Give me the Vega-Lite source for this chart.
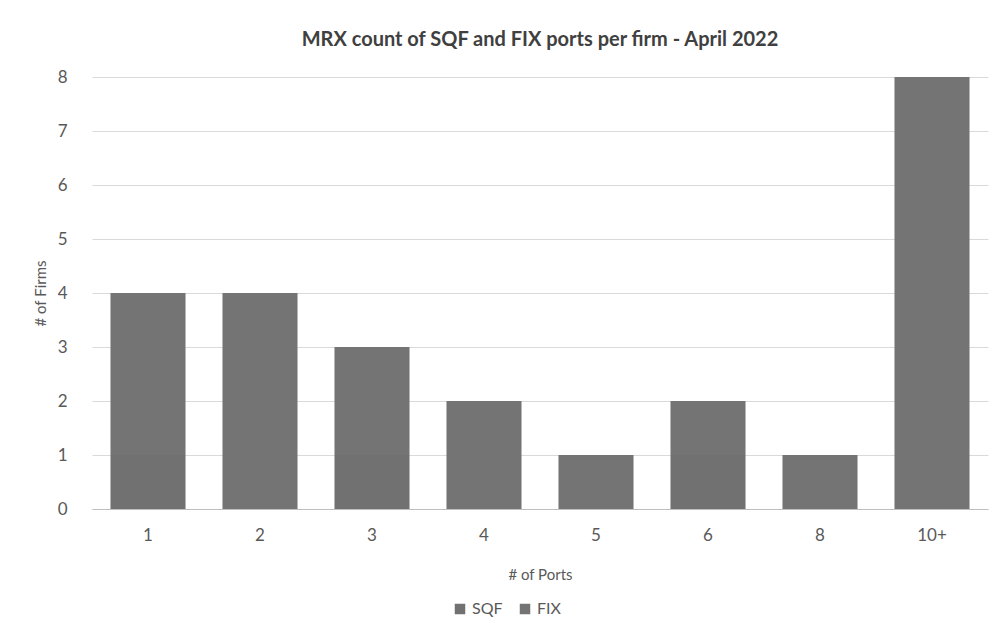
{
  "$schema": "https://vega.github.io/schema/vega-lite/v6.json",
  "width": 896,
  "height": 432,
  "autosize": {"type": "none"},
  "padding": {"left": 92, "top": 77, "right": 6, "bottom": 134},
  "background": "white",
  "title": {
    "text": "MRX count of SQF and FIX ports per firm - April 2022",
    "font": "Lato",
    "fontSize": 20,
    "fontWeight": "bold",
    "color": "#404040",
    "anchor": "middle",
    "offset": 18
  },
  "data": {
    "values": [
      {"ports": "1", "series": "SQF", "firms": 1},
      {"ports": "1", "series": "FIX", "firms": 3},
      {"ports": "2", "series": "SQF", "firms": 0},
      {"ports": "2", "series": "FIX", "firms": 4},
      {"ports": "3", "series": "SQF", "firms": 1},
      {"ports": "3", "series": "FIX", "firms": 2},
      {"ports": "4", "series": "SQF", "firms": 0},
      {"ports": "4", "series": "FIX", "firms": 2},
      {"ports": "5", "series": "SQF", "firms": 0},
      {"ports": "5", "series": "FIX", "firms": 1},
      {"ports": "6", "series": "SQF", "firms": 1},
      {"ports": "6", "series": "FIX", "firms": 1},
      {"ports": "8", "series": "SQF", "firms": 0},
      {"ports": "8", "series": "FIX", "firms": 1},
      {"ports": "10+", "series": "SQF", "firms": 0},
      {"ports": "10+", "series": "FIX", "firms": 8}
    ]
  },
  "mark": {"type": "bar"},
  "encoding": {
    "x": {
      "field": "ports",
      "type": "nominal",
      "sort": ["1", "2", "3", "4", "5", "6", "8", "10+"],
      "scale": {"paddingInner": 0.33, "paddingOuter": 0.165},
      "axis": {
        "title": "# of Ports",
        "labelAngle": 0,
        "labelFont": "Lato",
        "labelFontSize": 17,
        "labelColor": "#595959",
        "labelPadding": 18,
        "ticks": false,
        "domainColor": "#bfbfbf",
        "titleFont": "Lato",
        "titleFontSize": 15,
        "titleFontWeight": "normal",
        "titleColor": "#595959",
        "titlePadding": 24
      }
    },
    "y": {
      "field": "firms",
      "type": "quantitative",
      "stack": "zero",
      "scale": {"domain": [0, 8]},
      "axis": {
        "title": "# of Firms",
        "values": [0, 1, 2, 3, 4, 5, 6, 7, 8],
        "labelOverlap": false,
        "domain": false,
        "ticks": false,
        "gridColor": "#d9d9d9",
        "labelFont": "Lato",
        "labelFontSize": 17,
        "labelColor": "#595959",
        "labelPadding": 25,
        "titleFont": "Lato",
        "titleFontSize": 15,
        "titleFontWeight": "normal",
        "titleColor": "#595959",
        "titlePadding": 9
      }
    },
    "color": {
      "field": "series",
      "type": "nominal",
      "scale": {"domain": ["SQF", "FIX"], "range": ["#717171", "#747474"]},
      "legend": {
        "title": null,
        "orient": "none",
        "direction": "horizontal",
        "legendX": 360,
        "legendY": 524,
        "symbolType": "square",
        "symbolSize": 110,
        "labelFont": "Lato",
        "labelFontSize": 16,
        "labelColor": "#595959",
        "columnPadding": 14
      }
    },
    "order": {"field": "series", "sort": "descending"}
  },
  "config": {"view": {"stroke": null}}
}
